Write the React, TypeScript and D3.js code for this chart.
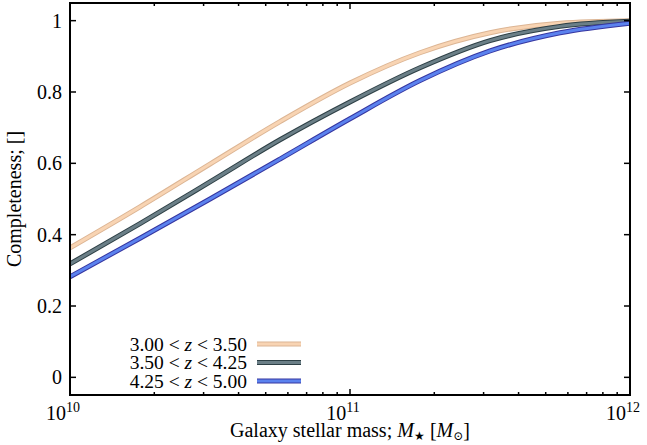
import React from "react";
import * as d3 from "d3";

const logMass = [10.0, 10.25, 10.5, 10.75, 11.0, 11.25, 11.5, 11.75, 12.0];
const seriesLabels = ["3.00 < z < 3.50", "3.50 < z < 4.25", "4.25 < z < 5.00"];
const orangeVals = [0.363, 0.478, 0.598, 0.717, 0.825, 0.91, 0.966, 0.993, 1.0];
const greyVals = [0.318, 0.431, 0.548, 0.666, 0.772, 0.868, 0.944, 0.984, 0.998];
const blueVals = [0.282, 0.39, 0.5, 0.612, 0.725, 0.832, 0.915, 0.966, 0.993];
const yTicks = [0, 0.2, 0.4, 0.6, 0.8, 1];
const xMajor = [1e10, 1e11, 1e12];

const W = 647, H = 445;
const L = 70, R = 630, T = 3, B = 395;

export default function App() {
  const x = d3.scaleLog().domain([1e10, 1e12]).range([L, R]);
  const y = d3.scaleLinear().domain([-0.0495, 1.0495]).range([B, T]);
  const series = [
    { vals: orangeVals, edge: "#dcb594", fill: "#f8d4b3" },
    { vals: greyVals, edge: "#2e4046", fill: "#6b7f87" },
    { vals: blueVals, edge: "#3636a0", fill: "#5b82ee" },
  ];
  const line = d3
    .line<number>()
    .x((_, i) => x(Math.pow(10, logMass[i])))
    .y((v) => y(v))
    .curve(d3.curveMonotoneX);
  const minor: number[] = [];
  for (let e = 10; e < 12; e++) for (let k = 2; k <= 9; k++) minor.push(k * Math.pow(10, e));
  const font = "'Liberation Serif', 'DejaVu Serif', serif";
  const fs = 20;
  return (
    <svg width={W} height={H} style={{ position: "absolute", left: 0, top: 0 }} fontFamily={font}>
      <rect x={0} y={0} width={W} height={H} fill="white" />
      <defs>
        <clipPath id="plot">
          <rect x={L} y={T} width={R - L} height={B - T} />
        </clipPath>
      </defs>
      <g clipPath="url(#plot)">
        {series.map((s, i) => (
          <g key={i}>
            <path d={line(s.vals) || ""} fill="none" stroke={s.edge} strokeWidth={5} />
            <path d={line(s.vals) || ""} fill="none" stroke={s.fill} strokeWidth={3} />
          </g>
        ))}
      </g>
      {/* legend */}
      {seriesLabels.map((lab, i) => {
        const [a, b] = lab.split("z");
        const yy = 344 + i * 18.5;
        const s = series[i];
        return (
          <g key={lab}>
            <text x={247} y={yy} dy="0.35em" textAnchor="end" fontSize={19.5}>
              {a}
              <tspan fontStyle="italic">z</tspan>
              {b}
            </text>
            <line x1={257} x2={301} y1={yy} y2={yy} stroke={s.edge} strokeWidth={5} />
            <line x1={257} x2={301} y1={yy} y2={yy} stroke={s.fill} strokeWidth={3} />
          </g>
        );
      })}
      {/* ticks */}
      {yTicks.map((t) => (
        <g key={t}>
          <line x1={L} x2={L + 6} y1={y(t)} y2={y(t)} stroke="black" strokeWidth={1.5} />
          <line x1={R} x2={R - 6} y1={y(t)} y2={y(t)} stroke="black" strokeWidth={1.5} />
          <text x={62} y={y(t)} dy="0.35em" textAnchor="end" fontSize={fs}>
            {String(t)}
          </text>
        </g>
      ))}
      {minor.map((m) => (
        <g key={m}>
          <line x1={x(m)} x2={x(m)} y1={B} y2={B - 3} stroke="black" strokeWidth={1.5} />
          <line x1={x(m)} x2={x(m)} y1={T} y2={T + 3} stroke="black" strokeWidth={1.5} />
        </g>
      ))}
      {xMajor.map((m) => (
        <g key={m}>
          <line x1={x(m)} x2={x(m)} y1={B} y2={B - 6} stroke="black" strokeWidth={1.5} />
          <line x1={x(m)} x2={x(m)} y1={T} y2={T + 6} stroke="black" strokeWidth={1.5} />
          <text x={x(m) - 7} y={420} textAnchor="middle" fontSize={fs}>
            10
            <tspan fontSize={14} dy={-8}>
              {Math.round(Math.log10(m))}
            </tspan>
          </text>
        </g>
      ))}
      <rect x={L} y={T} width={R - L} height={B - T} fill="none" stroke="black" strokeWidth={2} />
      {/* axis labels */}
      <text x={350} y={437} textAnchor="middle" fontSize={fs}>
        Galaxy stellar mass;{" "}
        <tspan fontStyle="italic">M</tspan>
        <tspan fontSize={12} dy={3}>★</tspan>
        <tspan dy={-3}> [</tspan>
        <tspan fontStyle="italic">M</tspan>
        <tspan fontSize={12} dy={3}>⊙</tspan>
        <tspan dy={-3}>]</tspan>
      </text>
      <text
        transform={`translate(21,${(T + B) / 2}) rotate(-90)`}
        textAnchor="middle"
        fontSize={fs}
      >
        Completeness; []
      </text>
    </svg>
  );
}
